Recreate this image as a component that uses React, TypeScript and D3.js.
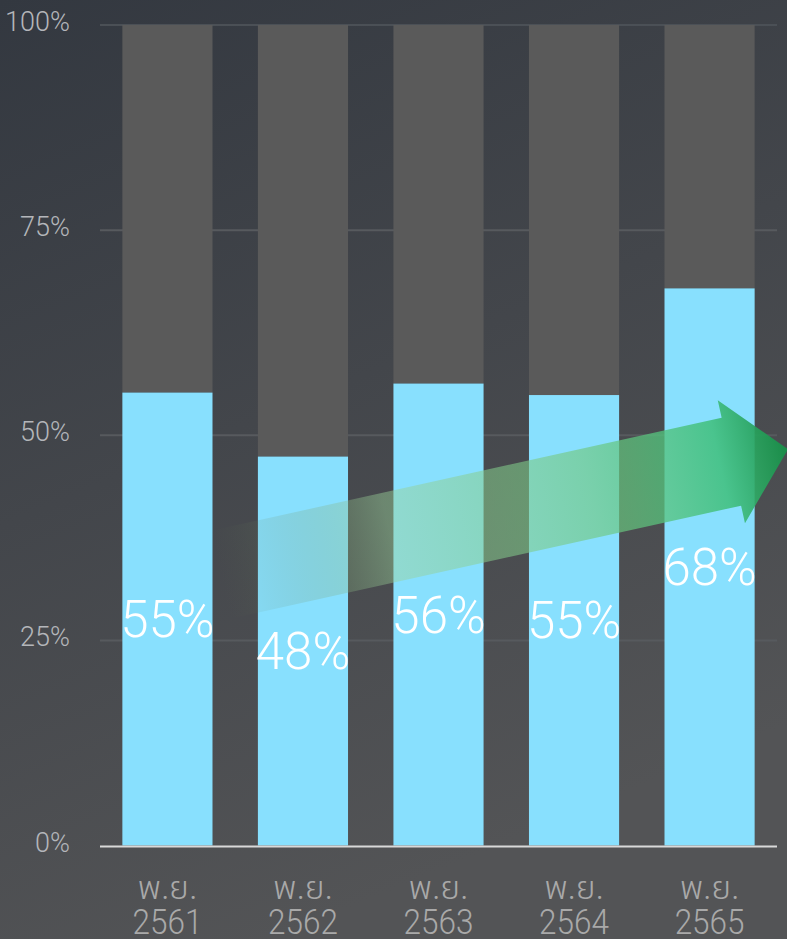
import React from "react";
import * as d3 from "d3";

const categories = ["2561", "2562", "2563", "2564", "2565"];
const monthLabel = "พ.ย.";
const values = [55.2, 47.4, 56.3, 54.9, 67.9];
const valueLabels = ["55%", "48%", "56%", "55%", "68%"];
const yTicks = [0, 25, 50, 75, 100];
const arrowFrom = 33.0;
const arrowTo = 48.3;

const W = 787;
const H = 939;
const left = 100;
const right = 777;
const top = 25;
const bottom = 845.5;

export default function App() {
  const x = d3.scaleBand<string>().domain(categories).range([left, right]).paddingInner(0.335).paddingOuter(0.165);
  const y = d3.scaleLinear().domain([0, 100]).range([bottom, top]);
  const bw = x.bandwidth();

  // arrow geometry
  const x0 = (x(categories[0]) as number) + bw + 8;
  const y0 = y(arrowFrom);
  const x1 = W + 1;
  const y1 = y(arrowTo);
  const len = Math.hypot(x1 - x0, y1 - y0);
  const ux = (x1 - x0) / len;
  const uy = (y1 - y0) / len;
  const nx = -uy;
  const ny = ux;
  const shaftHalf = 45;
  const headHalf = 63;
  const headLen = 58;
  const bx = x1 - ux * headLen;
  const by = y1 - uy * headLen;
  const pts: [number, number][] = [
    [x0 - nx * shaftHalf, y0 - ny * shaftHalf],
    [bx - nx * shaftHalf, by - ny * shaftHalf],
    [bx - nx * headHalf, by - ny * headHalf],
    [x1, y1],
    [bx + nx * headHalf, by + ny * headHalf],
    [bx + nx * shaftHalf, by + ny * shaftHalf],
    [x0 + nx * shaftHalf, y0 + ny * shaftHalf],
  ];
  const arrowPath = d3.line()(pts) + "Z";

  return (
    <div style={{ position: "fixed", left: 0, top: 0, width: W, height: H }}>
      <svg width={W} height={H} style={{ display: "block" }}>
        <defs>
          <linearGradient id="bg" x1="0" y1="0" x2="0.35" y2="1">
            <stop offset="0" stopColor="#333840" />
            <stop offset="1" stopColor="#535456" />
          </linearGradient>
          <linearGradient id="arrowGrad" gradientUnits="userSpaceOnUse" x1={x0} y1={y0} x2={x1} y2={y1}>
            <stop offset="0" stopColor="#5a6a48" stopOpacity="0" />
            <stop offset="0.3" stopColor="#9ad29a" stopOpacity="0.45" />
            <stop offset="0.65" stopColor="#72c880" stopOpacity="0.65" />
            <stop offset="0.88" stopColor="#3fbf7a" stopOpacity="0.85" />
            <stop offset="1" stopColor="#178f48" stopOpacity="0.95" />
          </linearGradient>
        </defs>
        <rect x={0} y={0} width={W} height={H} fill="url(#bg)" />
        {yTicks.filter((t) => t > 0).map((t) => (
          <line key={t} x1={left} x2={right} y1={y(t)} y2={y(t)} stroke={t === 100 ? "#4b5056" : "#575a5e"} strokeWidth={2} />
        ))}
        {yTicks.map((t) => (
          <text key={t} x={70} y={y(t) + 6} textAnchor="end" fill="#b4b6ba" fontFamily="Roboto" fontWeight={300} fontSize={27}>
            {t + "%"}
          </text>
        ))}
        {categories.map((c, i) => (
          <g key={c}>
            <rect x={x(c)} y={y(100)} width={bw} height={y(values[i]) - y(100)} fill="#5a5a5a" />
            <rect x={x(c)} y={y(values[i])} width={bw} height={bottom - y(values[i])} fill="#88e0fe" />
          </g>
        ))}
        <path d={arrowPath} fill="url(#arrowGrad)" />
        {categories.map((c, i) => (
          <text
            key={c}
            x={(x(c) as number) + bw / 2}
            y={y(values[i] / 2) + 18}
            textAnchor="middle"
            fill="#ffffff"
            fontFamily="Roboto"
            fontWeight={300}
            fontSize={51}
          >
            {valueLabels[i]}
          </text>
        ))}
        <line x1={left} x2={right} y1={bottom + 1} y2={bottom + 1} stroke="#d9d9d9" strokeWidth={2} />
        {categories.map((c) => {
          const cx = (x(c) as number) + bw / 2;
          return (
            <g key={c} fill="#a9a9a9" fontWeight={300}>
              <text
                transform={`translate(${cx},899) scale(1.05,1)`}
                textAnchor="middle"
                fontSize={32}
                fontFamily="'Noto Sans Thai', 'Noto Sans Thai Looped', Roboto, sans-serif"
                fontWeight={300}
              >
                {monthLabel}
              </text>
              <text transform={`translate(${cx},934) scale(0.9,1)`} textAnchor="middle" fontSize={35} fontFamily="Roboto">
                {c}
              </text>
            </g>
          );
        })}
      </svg>
    </div>
  );
}
